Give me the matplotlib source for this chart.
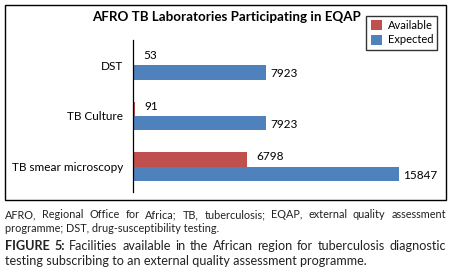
import matplotlib.pyplot as plt
from matplotlib.patches import Rectangle
import numpy as np

# data
categories = ["TB smear microscopy", "TB Culture", "DST"]
available = [6798, 91, 53]
expected = [15847, 7923, 7923]

red = "#C0504D"
blue = "#4F81BD"
plt.rcParams['font.family'] = ['Lato', 'DejaVu Sans']

fig = plt.figure(figsize=(4.5, 2.77), dpi=100)
W, H = 450, 277

# outer chart border
fig.patches.append(Rectangle((5 / W, 1 - 200 / H), 441 / W, 195 / H, transform=fig.transFigure,
                             fill=False, edgecolor="black", linewidth=1.0))

ax = fig.add_axes([133 / W, 1 - 192 / H, 307 / W, 152 / H])
y = np.arange(len(categories))
h = 0.28
ax.barh(y + h / 2, available, height=h, color=red, label="Available")
ax.barh(y - h / 2, expected, height=h, color=blue, label="Expected")

for yi, v in zip(y, available):
    ax.annotate(str(v), (v, yi + h / 2), xytext=(7, 2), textcoords="offset points",
                va="center", ha="left", fontsize=8.5)
for yi, v in zip(y, expected):
    ax.annotate(str(v), (v, yi - h / 2), xytext=(3, -1), textcoords="offset points",
                va="center", ha="left", fontsize=8.5)

ax.set_xlim(0, 18290)
ax.set_ylim(-0.5, 2.5)
ax.set_yticks(y)
ax.set_yticklabels(categories, fontsize=8.5)
ax.tick_params(axis="y", length=0, pad=7)
ax.set_xticks([])
for s in ["top", "right", "bottom"]:
    ax.spines[s].set_visible(False)
ax.spines["left"].set_linewidth(0.9)

# title
fig.text(226 / W, 1 - 17 / H, "AFRO TB Laboratories Participating in EQAP",
         ha="center", va="center", fontsize=9.6, fontweight="bold")

# legend
handles, labels = ax.get_legend_handles_labels()
leg = fig.legend(handles, labels, loc="upper right", bbox_to_anchor=(443 / W, 1 - 10 / H),
                 fontsize=8, frameon=True, fancybox=False, edgecolor="black",
                 handlelength=1.0, handleheight=1.0, borderpad=0.4, labelspacing=0.3,
                 handletextpad=0.5)
leg.get_frame().set_linewidth(1.0)

# caption, first line of each paragraph justified to the chart width
renderer = fig.canvas.get_renderer()


def justified(words, ypix, size, x0=5, x1=446, weights=None):
    weights = weights or ["normal"] * len(words)
    texts = [fig.text(0, 1 - ypix / H, w, ha="left", va="center", fontsize=size,
                      fontweight=wt, color="#222222") for w, wt in zip(words, weights)]
    widths = [t.get_window_extent(renderer).width for t in texts]
    gap = (x1 - x0 - sum(widths)) / (len(words) - 1)
    x = x0
    for t, wd in zip(texts, widths):
        t.set_x(x / W)
        x += wd + gap


small, big = 7.8, 9.1
justified("AFRO, Regional Office for Africa; TB, tuberculosis; EQAP, external quality assessment".split(),
          215, small)
fig.text(5 / W, 1 - 228 / H, "programme; DST, drug-susceptibility testing.",
         ha="left", va="center", fontsize=small, color="#222222")
line = "FIGURE 5: Facilities available in the African region for tuberculosis diagnostic".split()
justified(line, 246, big, weights=["bold", "bold"] + ["normal"] * (len(line) - 2))
fig.text(5 / W, 1 - 261 / H, "testing subscribing to an external quality assessment programme.",
         ha="left", va="center", fontsize=big, color="#222222")

fig.savefig("out.png", dpi=100)
